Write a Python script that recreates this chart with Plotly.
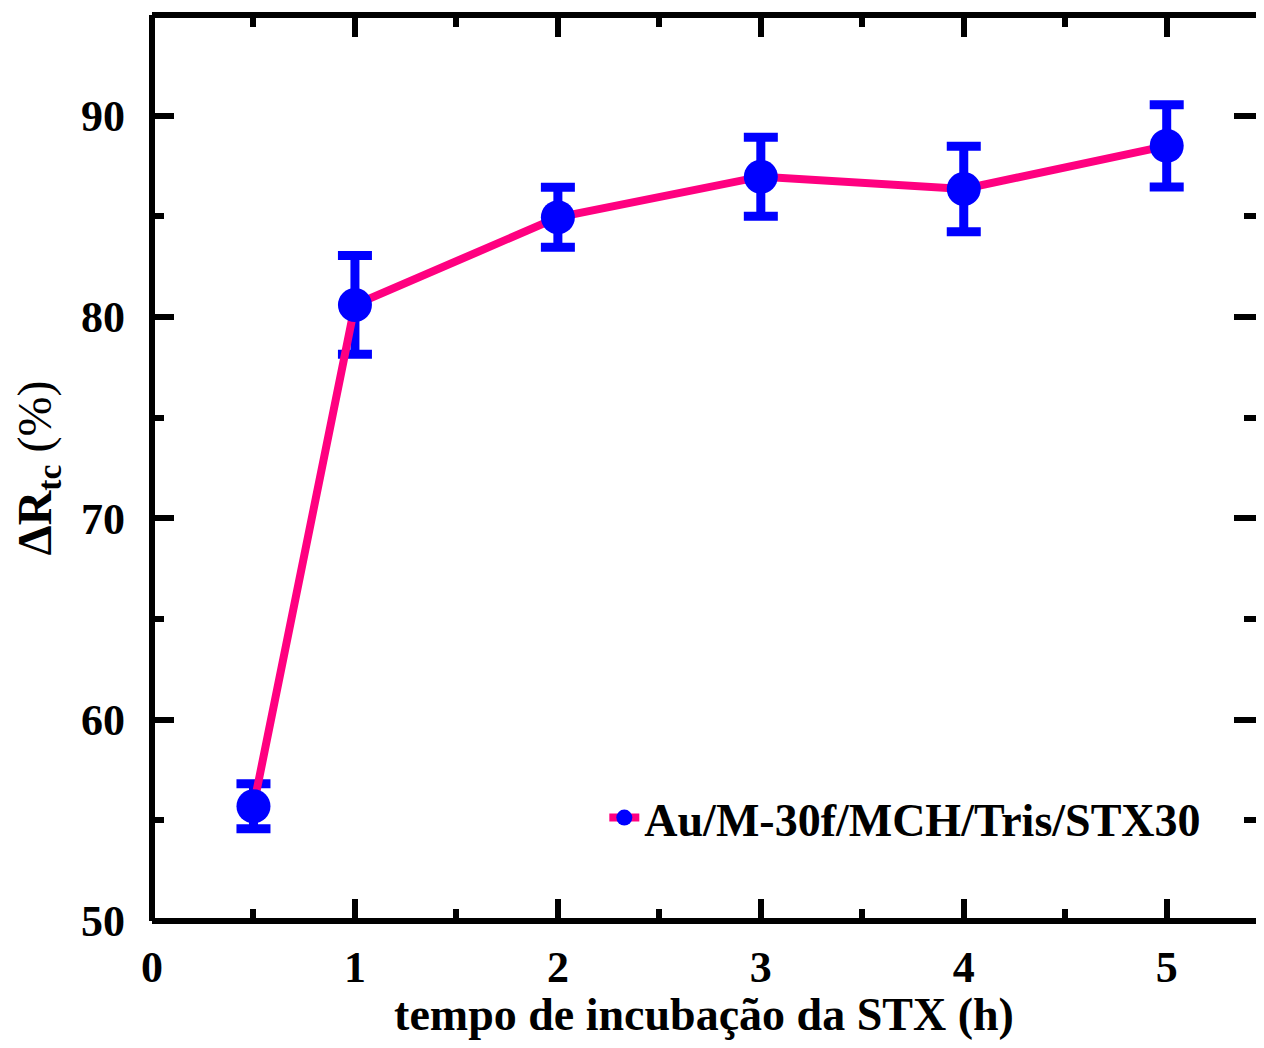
import plotly.graph_objects as go

# Data
time_h = [0.5, 1, 2, 3, 4, 5]
delta_rtc = [55.7, 80.6, 84.95, 86.97, 86.36, 88.5]
err = [1.12, 2.45, 1.49, 1.96, 2.12, 2.04]
series_name = "Au/M-30f/MCH/Tris/STX30"

x_ticks = [0, 1, 2, 3, 4, 5]
y_ticks = [50, 60, 70, 80, 90]

FONT = "Liberation Serif"
LINE_COLOR = "#FF0080"
MARK_COLOR = "#0000FF"

fig = go.Figure()
fig.add_trace(go.Scatter(
    x=time_h, y=delta_rtc, name=series_name, mode="lines+markers",
    line=dict(color=LINE_COLOR, width=8),
    marker=dict(color=MARK_COLOR, size=34, line=dict(width=0)),
    error_y=dict(type="data", array=err, visible=True, color=MARK_COLOR,
                 thickness=9, width=17),
))

axis_common = dict(
    showline=False, showgrid=False, zeroline=False, mirror="ticks",
    ticks="inside", tickwidth=6, tickcolor="black", automargin=False,
    tickfont=dict(family=FONT, size=44, color="black", weight="bold"),
)

fig.update_xaxes(
    range=[0, 5.44], tickvals=x_ticks, ticklen=22,
    minor=dict(ticks="inside", ticklen=12, tickwidth=6, dtick=0.5, tick0=0, tickcolor="black"),
    title=dict(text="tempo de incubação da STX (h)", standoff=16,
               font=dict(family=FONT, size=46, color="black", weight="bold")),
    ticklabelstandoff=16,
    **axis_common,
)
fig.update_yaxes(
    range=[50, 95], tickvals=y_ticks, ticklen=22,
    minor=dict(ticks="inside", ticklen=12, tickwidth=6, dtick=5, tick0=50, tickcolor="black"),
    title=dict(text="<b>ΔR<sub>tc</sub></b> (%)", standoff=14,
               font=dict(family=FONT, size=48, color="black")),
    ticklabelstandoff=26,
    **axis_common,
)

# frame lines (left, bottom, top); the right one falls just outside the picture
for x0, y0, x1, y1 in [(0, 0, 0, 1), (0, 0, 1, 0), (0, 1, 1, 1)]:
    fig.add_shape(type="line", xref="paper", yref="paper", x0=x0, y0=y0, x1=x1, y1=y1,
                  line=dict(color="black", width=6), layer="above")

fig.update_layout(
    width=1248, height=1032,
    margin=dict(l=144, r=0, t=7, b=119),
    plot_bgcolor="white", paper_bgcolor="white",
    showlegend=True,
    legend=dict(x=0.955, y=0.114, xanchor="right", yanchor="middle",
                bgcolor="rgba(0,0,0,0)",
                font=dict(family=FONT, size=46, color="black", weight="bold")),
)

fig.write_html("out.html")
